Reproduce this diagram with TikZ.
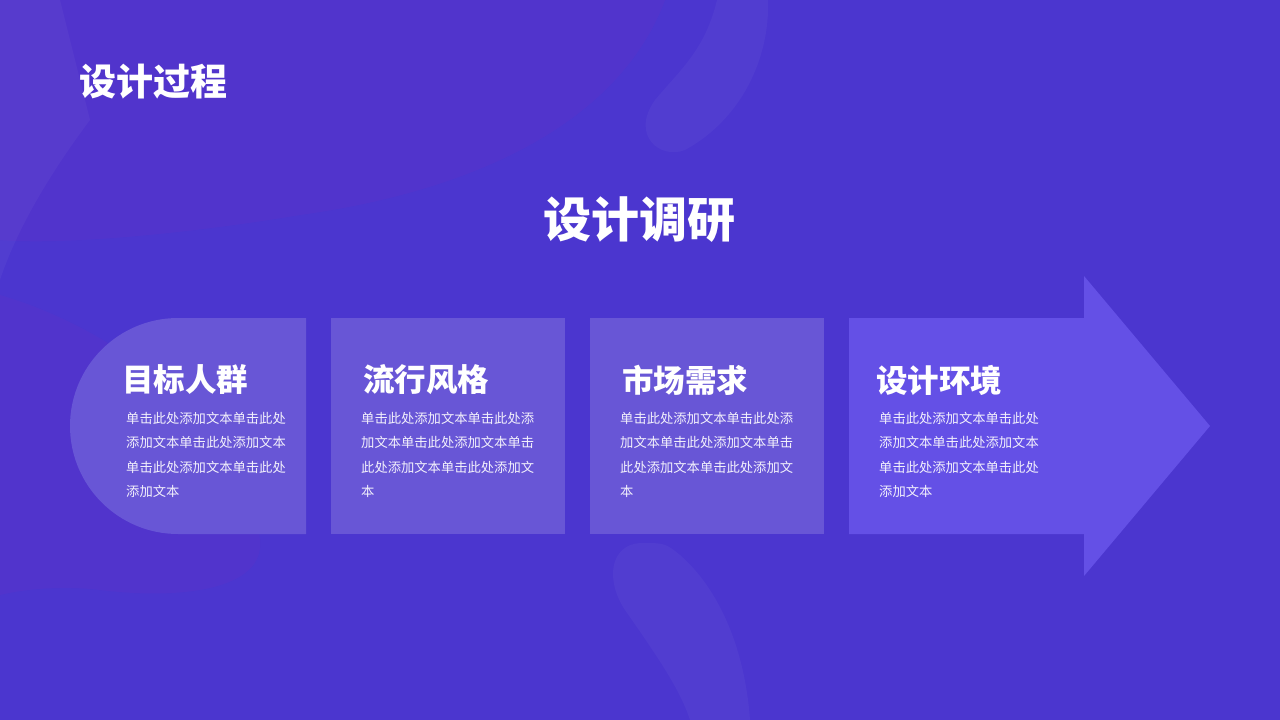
\documentclass[tikz,border=0pt]{standalone}
\usepackage{fontspec}
\setmainfont{Noto Sans CJK SC}
\usetikzlibrary{positioning}
\definecolor{bgviolet}{RGB}{75,54,207}
\definecolor{panelviolet}{RGB}{104,86,214}
\definecolor{arrowviolet}{RGB}{100,80,230}
\definecolor{blobmagenta}{RGB}{95,50,200}
\tikzset{
	panel/.style={fill=panelviolet},
	blob/.style={fill=white, fill opacity=0.035},
	heading/.style={
		anchor=west,
		inner sep=0pt,
		text=white,
		font=\fontsize{31.5}{36}\selectfont\bfseries},
	bodytext/.style={
		anchor=north west,
		inner sep=0pt,
		align=left,
		text=white!92!panelviolet,
		font=\fontsize{13.3}{24.5}\selectfont},
}
\begin{document}
\begin{tikzpicture}[x=1pt,y=-1pt]
	% background
	\fill[bgviolet] (0,0) rectangle (1280,720);
	\useasboundingbox (0,0) rectangle (1280,720);
	\fill[blobmagenta, opacity=0.35] (0,0) -- (665,0) .. controls (620,120) and (480,190) .. (300,215) .. controls (180,235) and (60,245) .. (0,240) -- cycle;
	\fill[blob] (90,120) .. controls (60,160) and (20,220) .. (0,280) -- (0,0) -- (60,0) -- cycle;
	\fill[blob] (717,0) .. controls (705,50) and (680,70) .. (655,100) .. controls (630,135) and (660,160) .. (685,150) .. controls (740,120) and (770,60) .. (768,0) -- cycle;
	\fill[blob] (640,543) .. controls (610,545) and (605,580) .. (625,610) .. controls (660,660) and (680,690) .. (690,720) -- (750,720) .. controls (745,650) and (720,590) .. (680,555) .. controls (665,543) .. (640,543) -- cycle;
	\fill[blobmagenta, opacity=0.3] (0,295) .. controls (120,330) and (250,430) .. (260,540) .. controls (265,590) and (180,600) .. (100,590) .. controls (60,585) and (20,590) .. (0,595) -- cycle;
	% titles
	\node[anchor=west, inner sep=0pt, text=white, font=\fontsize{37}{40}\selectfont\bfseries] (title) at (79,82) {设计过程};
	\node[inner sep=0pt, text=white, font=\fontsize{48}{52}\selectfont\bfseries] (subtitle) at (639,220) {设计调研};
	% panels
	\fill[panel] (306,318) -- (178,318) arc[start angle=-90, end angle=-270, radius=108] -- (306,534) -- cycle;
	\fill[panel] (331,318) rectangle (565,534);
	\fill[panel] (590,318) rectangle (824,534);
	\fill[arrowviolet] (849,318) -- (1084,318) -- (1084,276) -- (1210,426) -- (1084,576) -- (1084,534) -- (849,534) -- cycle;
	% headings
	\node[heading] (target) at (122,380) {目标人群};
	\node[heading] (style) at (363,380) {流行风格};
	\node[heading] (market) at (622,380) {市场需求};
	\node[heading] (environ) at (876,380) {设计环境};
	% body texts
	\node[bodytext] (targettext) at (126,412) {单击此处添加文本单击此处\\添加文本单击此处添加文本\\单击此处添加文本单击此处\\添加文本};
	\node[bodytext] (styletext) at (361,412) {单击此处添加文本单击此处添\\加文本单击此处添加文本单击\\此处添加文本单击此处添加文\\本};
	\node[bodytext] (markettext) at (620,412) {单击此处添加文本单击此处添\\加文本单击此处添加文本单击\\此处添加文本单击此处添加文\\本};
	\node[bodytext] (environtext) at (879,412) {单击此处添加文本单击此处\\添加文本单击此处添加文本\\单击此处添加文本单击此处\\添加文本};
\end{tikzpicture}
\end{document}
